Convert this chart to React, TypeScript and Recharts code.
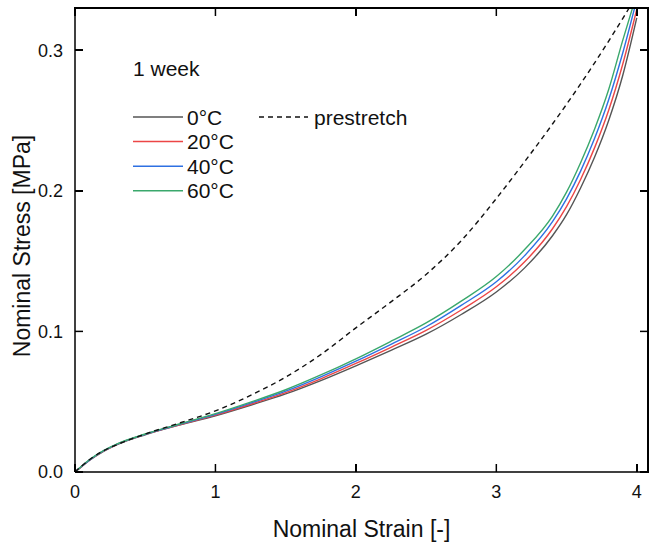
import { LineChart, Line, XAxis, YAxis, Legend, ReferenceLine } from 'recharts';

// nominal strain [-] sample points
const STRAIN = [0, 0.05, 0.1, 0.2, 0.3, 0.5, 0.75, 1.0, 1.25, 1.5, 1.75, 2.0, 2.25, 2.5, 2.75, 3.0, 3.2, 3.4, 3.5, 3.6, 3.7, 3.8, 3.9, 4.0];

// nominal stress [MPa]
const STRESS_0C = [0, 0.004, 0.008, 0.0145, 0.0195, 0.0265, 0.0335, 0.040, 0.0475, 0.0555, 0.065, 0.0755, 0.0865, 0.098, 0.112, 0.128, 0.145, 0.168, 0.183, 0.202, 0.224, 0.250, 0.282, 0.323];
const STRESS_20C = [0, 0.0042, 0.0082, 0.0147, 0.0197, 0.0267, 0.0338, 0.0405, 0.0482, 0.0565, 0.0663, 0.0772, 0.0887, 0.1007, 0.1152, 0.1317, 0.1493, 0.173, 0.1887, 0.208, 0.2307, 0.2573, 0.290, 0.329];
const STRESS_40C = [0, 0.0043, 0.0083, 0.0148, 0.0198, 0.0268, 0.034, 0.041, 0.049, 0.0575, 0.0677, 0.0788, 0.0908, 0.1033, 0.1185, 0.1353, 0.1537, 0.178, 0.1943, 0.214, 0.2373, 0.2647, 0.298, 0.336];
const STRESS_60C = [0, 0.0045, 0.0085, 0.015, 0.02, 0.027, 0.0343, 0.0415, 0.0497, 0.0585, 0.069, 0.0805, 0.093, 0.106, 0.1215, 0.139, 0.158, 0.182, 0.199, 0.220, 0.244, 0.272, 0.307, 0.340];
const STRESS_PRESTRETCH = [0, 0.0045, 0.0085, 0.015, 0.0195, 0.027, 0.035, 0.0435, 0.0545, 0.0675, 0.0835, 0.1025, 0.121, 0.1405, 0.1645, 0.1945, 0.2205, 0.2475, 0.2615, 0.276, 0.291, 0.3065, 0.3225, 0.339];

const X_TICKS = [0, 1, 2, 3, 4];
const Y_TICKS = [0, 0.1, 0.2, 0.3];
const X_MAX = 4.08;
const Y_MAX = 0.33;

const SERIES = [
  { key: 'c0', name: '0°C', color: '#555555', dash: undefined as string | undefined },
  { key: 'c20', name: '20°C', color: '#ec4646', dash: undefined },
  { key: 'c40', name: '40°C', color: '#2e70e2', dash: undefined },
  { key: 'c60', name: '60°C', color: '#3aa86c', dash: undefined },
  { key: 'pre', name: 'prestretch', color: '#111111', dash: '5 4' },
];

const data = STRAIN.map((s, i) => ({
  strain: s,
  c0: STRESS_0C[i],
  c20: STRESS_20C[i],
  c40: STRESS_40C[i],
  c60: STRESS_60C[i],
  pre: STRESS_PRESTRETCH[i],
}));

const FONT = '"Liberation Sans", Arial, sans-serif';
const AXIS = '#000000';
const AXIS_W = 1.5;
const TICK_LEN = 8;

// plot frame, follows from the chart margins and axis sizes below
const W = 651;
const H = 543;
const PLOT_LEFT = 75;
const PLOT_TOP = 8;
const PLOT_RIGHT = 648;
const PLOT_BOTTOM = 472;
const px = (v: number) => PLOT_LEFT + (v / X_MAX) * (PLOT_RIGHT - PLOT_LEFT);
const py = (v: number) => PLOT_BOTTOM - (v / Y_MAX) * (PLOT_BOTTOM - PLOT_TOP);

// tick label plus inward tick marks (bottom and mirrored top)
function BottomTick(props: any) {
  const { x, y, payload } = props;
  return (
    <g>
      <line x1={x} x2={x} y1={y} y2={y - TICK_LEN} stroke={AXIS} strokeWidth={AXIS_W} />
      <line x1={x} x2={x} y1={PLOT_TOP} y2={PLOT_TOP + TICK_LEN} stroke={AXIS} strokeWidth={AXIS_W} />
      <text x={x} y={y + 13} dy="0.71em" textAnchor="middle" fontSize={18} fill="#111" fontFamily={FONT}>
        {payload.value}
      </text>
    </g>
  );
}

// tick label plus inward tick marks (left and mirrored right)
function LeftTick(props: any) {
  const { x, y, payload } = props;
  return (
    <g>
      <line x1={x} x2={x + TICK_LEN} y1={y} y2={y} stroke={AXIS} strokeWidth={AXIS_W} />
      <line x1={PLOT_RIGHT} x2={PLOT_RIGHT - TICK_LEN} y1={y} y2={y} stroke={AXIS} strokeWidth={AXIS_W} />
      <text x={x - 12} y={y} dy="0.36em" textAnchor="end" fontSize={18} fill="#111" fontFamily={FONT}>
        {Number(payload.value).toFixed(1)}
      </text>
    </g>
  );
}

// legend block
function LegendBlock() {
  const temps = SERIES.filter((s) => !s.dash);
  const pre = SERIES.find((s) => s.dash)!;
  return (
    <svg width={W} height={H} style={{ fontFamily: FONT, display: 'block' }}>
      <text x={133} y={75.5} fontSize={21} fill="#111">1 week</text>
      {temps.map((s, i) => {
        const cy = 117 + i * 24.6;
        return (
          <g key={s.key}>
            <line x1={133} x2={183} y1={cy} y2={cy} stroke={s.color} strokeWidth={1.5} />
            <text x={187} y={cy + 7.6} fontSize={21} fill="#111">{s.name}</text>
          </g>
        );
      })}
      <line x1={259} x2={308} y1={117} y2={117} stroke={pre.color} strokeWidth={1.4} strokeDasharray={pre.dash} />
      <text x={314} y={124.6} fontSize={21} fill="#111">{pre.name}</text>
    </svg>
  );
}

// closed box with inward ticks, drawn as plain HTML on top of the chart
function FrameBox() {
  const half = AXIS_W / 2;
  const mark = (key: string, left: number, top: number, w: number, h: number) => (
    <div key={key} style={{ position: 'absolute', left, top, width: w, height: h, background: AXIS }} />
  );
  return (
    <div style={{ position: 'absolute', left: 0, top: 0, width: W, height: H, pointerEvents: 'none' }}>
      {mark('top', PLOT_LEFT - half, PLOT_TOP - half, PLOT_RIGHT - PLOT_LEFT + AXIS_W, AXIS_W)}
      {mark('right', PLOT_RIGHT - half, PLOT_TOP - half, AXIS_W, PLOT_BOTTOM - PLOT_TOP + AXIS_W)}
      {X_TICKS.map((t) => mark('xb' + t, px(t) - half, PLOT_BOTTOM - TICK_LEN, AXIS_W, TICK_LEN))}
      {X_TICKS.map((t) => mark('xt' + t, px(t) - half, PLOT_TOP, AXIS_W, TICK_LEN))}
      {Y_TICKS.map((t) => mark('yl' + t, PLOT_LEFT, py(t) - half, TICK_LEN, AXIS_W))}
      {Y_TICKS.map((t) => mark('yr' + t, PLOT_RIGHT - TICK_LEN, py(t) - half, TICK_LEN, AXIS_W))}
    </div>
  );
}

export default function App() {
  return (
    <div style={{ position: 'absolute', left: 0, top: 0, width: W, height: H, background: '#fff', fontFamily: FONT }}>
      <LineChart
        width={W}
        height={H}
        data={data}
        margin={{ top: PLOT_TOP, right: W - PLOT_RIGHT, left: 15, bottom: 1 }}
      >
        <XAxis
          dataKey="strain"
          type="number"
          domain={[0, X_MAX]}
          ticks={X_TICKS}
          allowDataOverflow
          height={70}
          stroke={AXIS}
          strokeWidth={AXIS_W}
          tickLine={false}
          tickSize={0}
          tickMargin={0}
          tick={<BottomTick />}
          label={{
            content: (p: any) => {
              const vb = p.viewBox || { x: 75, y: 472, width: 573, height: 70 };
              return (
                <text x={vb.x + vb.width / 2} y={537} textAnchor="middle" fontSize={23} fill="#111" fontFamily={FONT}>
                  Nominal Strain [-]
                </text>
              );
            },
          }}
        />
        <YAxis
          type="number"
          domain={[0, Y_MAX]}
          ticks={Y_TICKS}
          allowDataOverflow
          width={60}
          stroke={AXIS}
          strokeWidth={AXIS_W}
          tickLine={false}
          tickSize={0}
          tickMargin={0}
          tick={<LeftTick />}
          label={{
            content: (p: any) => {
              const vb = p.viewBox || { x: 15, y: 8, width: 60, height: 464 };
              const cx = 22;
              const cy = vb.y + vb.height / 2 + 6;
              return (
                <text
                  x={cx}
                  y={cy}
                  transform={`rotate(-90 ${cx} ${cy})`}
                  textAnchor="middle"
                  dominantBaseline="central"
                  fontSize={23}
                  fill="#111"
                  fontFamily={FONT}
                >
                  Nominal Stress [MPa]
                </text>
              );
            },
          }}
        />
        <ReferenceLine y={Y_MAX} stroke={AXIS} strokeWidth={AXIS_W} />
        <ReferenceLine x={X_MAX} stroke={AXIS} strokeWidth={AXIS_W} />
        <Legend
          layout="vertical"
          align="center"
          verticalAlign="middle"
          content={() => <LegendBlock />}
          wrapperStyle={{ position: 'absolute', left: 0, top: 0, width: W, height: H, pointerEvents: 'none' }}
        />
        {SERIES.map((s) => (
          <Line
            key={s.key}
            type="monotone"
            dataKey={s.key}
            name={s.name}
            stroke={s.color}
            strokeWidth={1.4}
            strokeDasharray={s.dash}
            dot={false}
            activeDot={false}
            isAnimationActive={false}
          />
        ))}
      </LineChart>
      <FrameBox />
    </div>
  );
}
